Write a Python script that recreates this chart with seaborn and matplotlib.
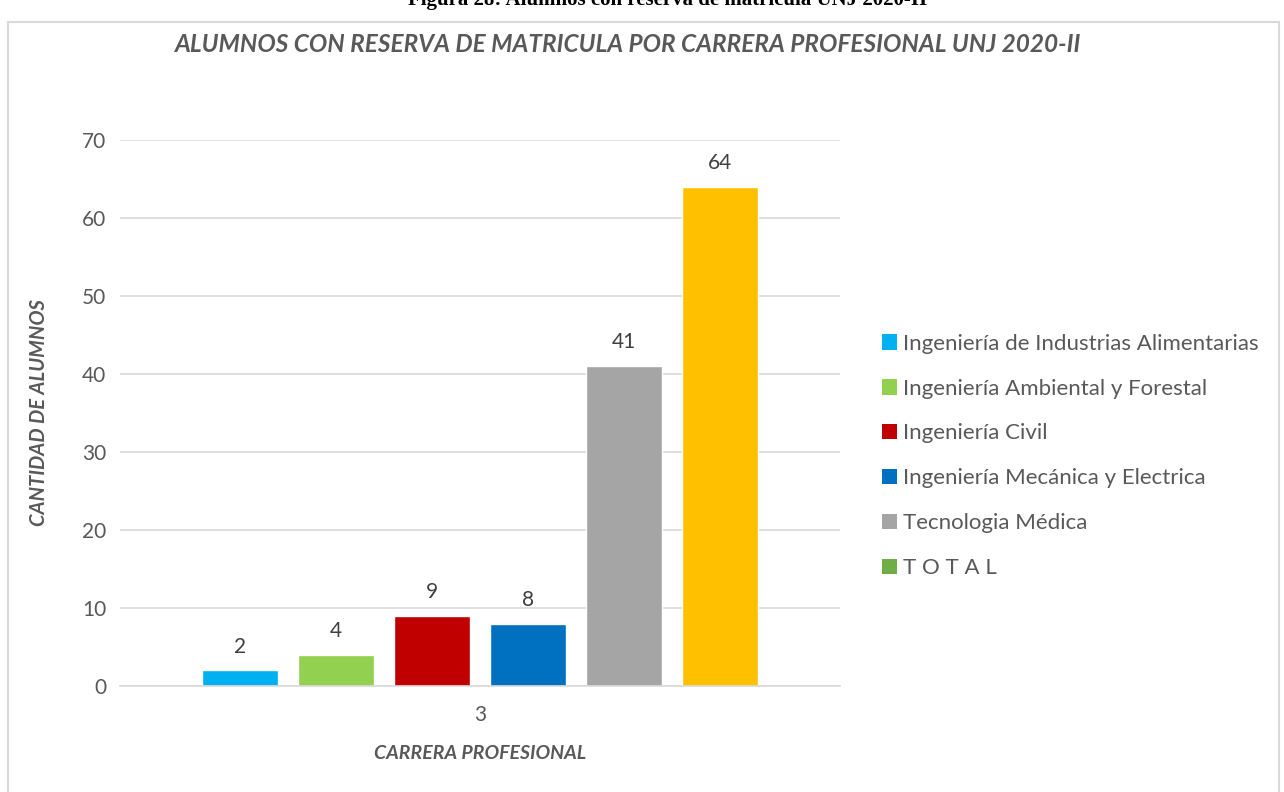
import matplotlib
matplotlib.use("Agg")
import matplotlib.pyplot as plt
import seaborn as sns
import pandas as pd
from matplotlib.patches import Patch, Rectangle

# --- Datos ---
carreras = [
    "Ingeniería de Industrias Alimentarias",
    "Ingeniería Ambiental y Forestal",
    "Ingeniería Civil",
    "Ingeniería Mecánica y Electrica",
    "Tecnologia Médica",
    "T O T A L",
]
alumnos = [2, 4, 9, 8, 41, 64]
grupo = ["3"] * len(carreras)
colores_barras = ["#00B0F0", "#92D050", "#C00000", "#0070C0", "#A5A5A5", "#FFC000"]
colores_leyenda = ["#00B0F0", "#92D050", "#C00000", "#0070C0", "#A5A5A5", "#70AD47"]
yticks = [0, 10, 20, 30, 40, 50, 60, 70]

df = pd.DataFrame({"grupo": grupo, "carrera": carreras, "alumnos": alumnos})

sns.set_style("white")
plt.rcParams["font.family"] = ["Lato", "DejaVu Sans"]
gris = "#595959"

fig = plt.figure(figsize=(12.84, 7.92), dpi=100)
ax = fig.add_axes([0.0935, 0.1338, 0.5607, 0.6894])

sns.barplot(data=df, x="grupo", y="alumnos", hue="carrera", hue_order=carreras,
            palette=colores_barras, width=0.8, gap=0.2, saturation=1,
            legend=False, ax=ax)

for cont in ax.containers:
    ax.bar_label(cont, padding=10, fontsize=15, color="#404040")

ax.set_ylim(0, 70)
ax.set_yticks(yticks)
ax.yaxis.grid(True, color="#D9D9D9", linewidth=1.2)
ax.set_axisbelow(True)
for s in ["top", "right", "left"]:
    ax.spines[s].set_visible(False)
ax.spines["bottom"].set_color("#D9D9D9")
ax.spines["bottom"].set_linewidth(1.2)
ax.tick_params(axis="both", length=0, labelsize=15, colors=gris, pad=10)
ax.tick_params(axis="x", pad=14)

ax.set_xlabel("CARRERA PROFESIONAL", fontsize=14, fontstyle="italic",
              fontweight="bold", color=gris, labelpad=14)
ax.set_ylabel("CANTIDAD DE ALUMNOS", fontsize=14.5, fontstyle="italic",
              fontweight="bold", color=gris, labelpad=24)

handles = [Patch(facecolor=c, edgecolor="none") for c in colores_leyenda]
leg = fig.legend(handles, carreras, loc="upper left", bbox_to_anchor=(0.671, 0.604),
                 frameon=False, fontsize=16, handlelength=0.7, handleheight=0.7,
                 handletextpad=0.25, labelspacing=1.12, labelcolor=gris)

fig.text(0.489, 0.944, "ALUMNOS CON RESERVA DE MATRICULA POR CARRERA PROFESIONAL UNJ 2020-II",
         ha="center", va="center", fontsize=17.6, fontstyle="italic",
         fontweight="bold", color=gris)

# marco del gráfico y título de figura recortado
fig.patches.append(Rectangle((8 / 1284, -0.05), 1271 / 1284, 1.05 - 22 / 792,
                             transform=fig.transFigure, fill=False,
                             edgecolor="#D9D9D9", linewidth=1.5))
fig.text(0.52, 1.0, "Figura 28: Alumnos con reserva de matricula UNJ 2020-II",
         ha="center", va="center", fontsize=15, fontweight="bold",
         family="Liberation Serif", color="black")

fig.savefig("out.png", dpi=100, facecolor="white")
